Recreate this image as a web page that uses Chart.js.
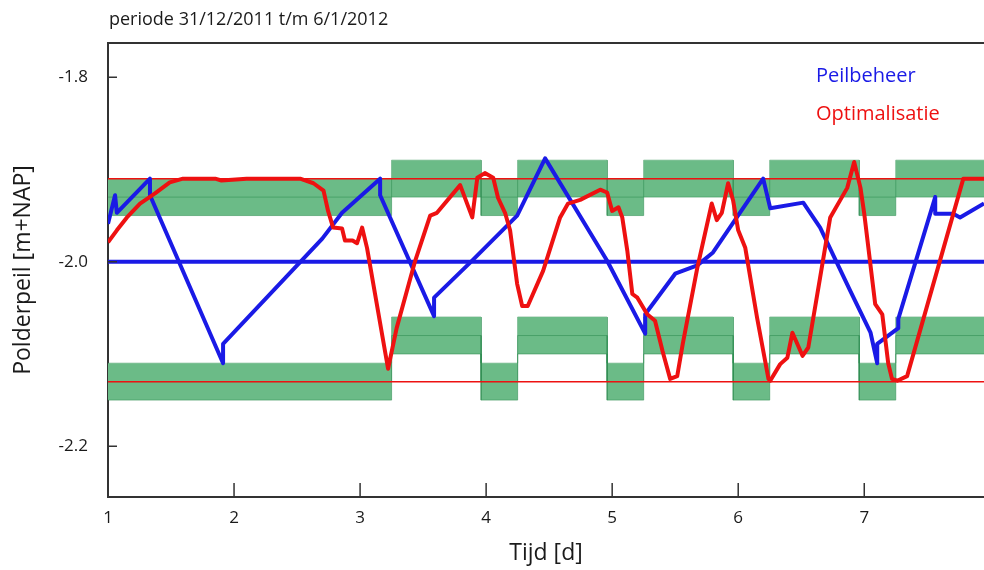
<!DOCTYPE html>
<html>
<head>
<meta charset="utf-8">
<script src="https://cdn.jsdelivr.net/npm/chart.js@4.4.1/dist/chart.umd.min.js"></script>
<style>
  html, body { margin: 0; padding: 0; background: #fff; }
  #wrap { position: relative; width: 984px; height: 570px; overflow: hidden; }
  .txt { position: absolute; font-family: "Open Sans", sans-serif; white-space: nowrap; line-height: 1; }
  #title { left: 109px; top: 9px; font-size: 18px; color: #1a1a1a; }
  #lg1 { left: 816px; top: 65px; font-size: 20px; color: #1a1ae6; }
  #lg2 { left: 816px; top: 103px; font-size: 20px; color: #ee1111; }
</style>
</head>
<body>
<div id="wrap">
  <canvas id="chart"></canvas>
  <div class="txt" id="title">periode 31/12/2011 t/m 6/1/2012</div>
  <div class="txt" id="lg1">Peilbeheer</div>
  <div class="txt" id="lg2">Optimalisatie</div>
</div>
<script>
// axis ticks
const xTicks = [1, 2, 3, 4, 5, 6, 7];
const yTicks = [-2.2, -2.0, -1.8];
const xMin = 1, xMax = 7.95;

// Peilbeheer (blue)
const peilX = [1.0, 1.056, 1.07, 1.333, 1.333, 1.913, 1.913, 2.7, 2.857, 3.159, 3.159, 3.587, 3.587, 3.873,
  4.246, 4.468, 4.96, 5.262, 5.262, 5.5, 5.675, 5.8, 6.198, 6.254, 6.516, 6.65, 6.89, 7.05, 7.103, 7.103,
  7.27, 7.27, 7.563, 7.563, 7.706, 7.76, 7.95];
const peilY = [-1.959, -1.928, -1.947, -1.91, -1.928, -2.11, -2.089, -1.975, -1.947, -1.91, -1.928, -2.059, -2.039, -2.001,
  -1.95, -1.888, -1.999, -2.078, -2.057, -2.013, -2.004, -1.99, -1.91, -1.942, -1.936, -1.963, -2.032, -2.077, -2.11, -2.089,
  -2.072, -2.062, -1.93, -1.948, -1.948, -1.952, -1.937];

// Optimalisatie (red)
const optX = [1.0, 1.07, 1.15, 1.254, 1.373, 1.49, 1.595, 1.85, 1.9, 2.1, 2.524, 2.63, 2.71, 2.746, 2.786,
  2.857, 2.88, 2.94, 2.976, 3.016, 3.055, 3.222, 3.29, 3.437, 3.556, 3.61, 3.794, 3.89, 3.93, 3.99, 4.056,
  4.095, 4.15, 4.19, 4.246, 4.286, 4.33, 4.452, 4.587, 4.65, 4.746, 4.905, 4.96, 5.0, 5.05, 5.08, 5.12,
  5.16, 5.2, 5.278, 5.34, 5.4, 5.46, 5.516, 5.56, 5.675, 5.79, 5.83, 5.87, 5.92, 5.96, 6.0, 6.056, 6.15,
  6.24, 6.254, 6.333, 6.39, 6.43, 6.51, 6.556, 6.65, 6.73, 6.865, 6.92, 6.97, 7.0, 7.087, 7.143, 7.19,
  7.22, 7.262, 7.34, 7.786, 7.95];
const optY = [-1.979, -1.966, -1.952, -1.937, -1.926, -1.914, -1.91, -1.91, -1.912, -1.91, -1.91, -1.915, -1.923, -1.945, -1.963,
  -1.964, -1.977, -1.977, -1.98, -1.963, -1.985, -2.116, -2.072, -1.999, -1.95, -1.947, -1.917, -1.952, -1.909, -1.904, -1.909,
  -1.931, -1.947, -1.966, -2.024, -2.048, -2.048, -2.01, -1.952, -1.937, -1.933, -1.922, -1.925, -1.945, -1.941, -1.952, -1.988,
  -2.035, -2.039, -2.057, -2.064, -2.097, -2.127, -2.124, -2.089, -2.007, -1.937, -1.955, -1.947, -1.915, -1.934, -1.966, -1.985, -2.061,
  -2.127, -2.129, -2.111, -2.104, -2.077, -2.102, -2.093, -2.017, -1.952, -1.92, -1.892, -1.92, -1.948, -2.046, -2.057, -2.11,
  -2.127, -2.129, -2.124, -1.91, -1.91];

// reference levels
const peilTarget = -2.0;
const optUpper = -1.91;
const optLower = -2.13;

// day/night periods and band centres (band half width 0.02)
const periodX = [1, 3.25, 3.96, 4.25, 4.96, 5.25, 5.96, 6.25, 6.96, 7.25, 7.95];
const upperCentre = [-1.93, -1.91, -1.93, -1.91, -1.93, -1.91, -1.93, -1.91, -1.93, -1.91];
const lowerCentre = [-2.13, -2.08, -2.13, -2.08, -2.13, -2.08, -2.13, -2.08, -2.13, -2.08];
const bandHalf = 0.02;

const BLUE = '#1a1ae6', RED = '#ee1111', GREEN = '#6bbb87', GREEN_EDGE = 'rgba(45,140,80,0.55)';

function pairs(xs, ys) { return xs.map((x, i) => ({ x, y: ys[i] })); }
function steps(centres, off) {
  const pts = [];
  centres.forEach((c, i) => {
    pts.push({ x: periodX[i], y: c + off });
    pts.push({ x: periodX[i + 1], y: c + off });
  });
  return pts;
}
function flat(v) { return [{ x: xMin, y: v }, { x: xMax, y: v }]; }

const base = { pointRadius: 0, tension: 0, fill: false, borderJoinStyle: 'round' };
const datasets = [
  // bands (drawn first)
  { ...base, data: steps(upperCentre, bandHalf), borderColor: GREEN_EDGE, borderWidth: 1, order: 20 },
  { ...base, data: steps(upperCentre, -bandHalf), borderColor: GREEN_EDGE, borderWidth: 1, backgroundColor: GREEN, fill: '-1', order: 19 },
  { ...base, data: steps(lowerCentre, bandHalf), borderColor: GREEN_EDGE, borderWidth: 1, order: 18 },
  { ...base, data: steps(lowerCentre, -bandHalf), borderColor: GREEN_EDGE, borderWidth: 1, backgroundColor: GREEN, fill: '-1', order: 17 },
  { ...base, data: steps(upperCentre, 0), borderColor: GREEN_EDGE, borderWidth: 1, order: 16 },
  { ...base, data: steps(lowerCentre, 0), borderColor: GREEN_EDGE, borderWidth: 1, order: 15 },
  // reference lines
  { ...base, data: flat(optUpper), borderColor: RED, borderWidth: 1.5, order: 10 },
  { ...base, data: flat(optLower), borderColor: RED, borderWidth: 1.5, order: 10 },
  { ...base, data: flat(peilTarget), borderColor: BLUE, borderWidth: 4, order: 9 },
  // series
  { ...base, label: 'Peilbeheer', data: pairs(peilX, peilY), borderColor: BLUE, borderWidth: 4, order: 2 },
  { ...base, label: 'Optimalisatie', data: pairs(optX, optY), borderColor: RED, borderWidth: 4, order: 1 }
];

// inner tick marks + top frame line
const innerTicks = {
  id: 'innerTicks',
  afterDraw(chart) {
    const { ctx, chartArea: a, scales: { x, y } } = chart;
    ctx.save();
    ctx.strokeStyle = '#333';
    ctx.lineWidth = 1.5;
    ctx.beginPath();
    yTicks.forEach(v => { const py = y.getPixelForValue(v); ctx.moveTo(a.left, py); ctx.lineTo(a.left + 9, py); });
    xTicks.slice(1).forEach(v => { const px = x.getPixelForValue(v); ctx.moveTo(px, a.bottom); ctx.lineTo(px, a.bottom - 14); });
    ctx.stroke();
    ctx.lineWidth = 2;
    ctx.beginPath();
    ctx.moveTo(a.left, a.top); ctx.lineTo(a.right, a.top);
    ctx.stroke();
    ctx.restore();
  }
};

const FONT = '"Open Sans", sans-serif';
document.getElementById('chart').width = 984;
document.getElementById('chart').height = 570;
new Chart(document.getElementById('chart'), {
  type: 'line',
  data: { datasets },
  options: {
    responsive: false,
    animation: false,
    events: [],
    layout: { padding: { top: 43, right: 0, left: 0, bottom: 0 } },
    plugins: { legend: { display: false }, tooltip: { enabled: false } },
    scales: {
      x: {
        type: 'linear', min: xMin, max: xMax,
        afterBuildTicks: s => { s.ticks = xTicks.map(v => ({ value: v })); },
        afterFit: s => { s.height = 73; },
        grid: { display: false, drawTicks: false },
        border: { display: true, color: '#333', width: 2 },
        ticks: { color: '#1a1a1a', font: { family: FONT, size: 17 }, padding: 11, maxRotation: 0 },
        title: { display: true, text: 'Tijd [d]', color: '#1a1a1a', font: { family: FONT, size: 23 }, padding: { top: 0, bottom: 3 } }
      },
      y: {
        type: 'linear', min: -2.255, max: -1.763,
        afterBuildTicks: s => { s.ticks = yTicks.map(v => ({ value: v })); },
        afterFit: s => { s.width = 108; },
        grid: { display: false, drawTicks: false },
        border: { display: true, color: '#333', width: 2 },
        ticks: { color: '#1a1a1a', font: { family: FONT, size: 17 }, padding: 20, callback: v => v.toFixed(1) },
        title: { display: true, text: 'Polderpeil [m+NAP]', color: '#1a1a1a', font: { family: FONT, size: 23 }, padding: { top: 10, bottom: 0 } }
      }
    }
  },
  plugins: [innerTicks]
});
</script>
</body>
</html>
